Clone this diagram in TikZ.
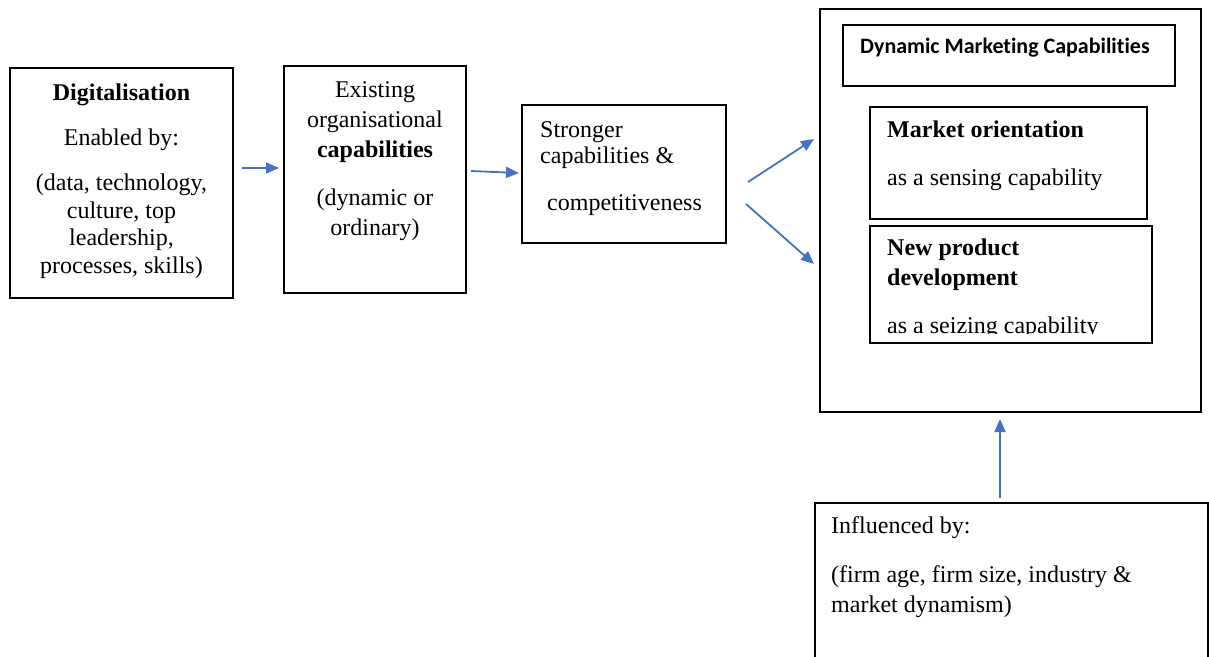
\documentclass[tikz,border=0pt]{standalone}
\usepackage{fontspec}
\setmainfont{Liberation Serif}
\newfontfamily\titlefont[RawFeature=-liga]{Carlito}
\usetikzlibrary{arrows.meta}

\tikzset{
  box/.style={draw=black, line width=1.4pt, rectangle, inner sep=0pt},
  outerbox/.style={draw=black, line width=2pt, rectangle, inner sep=0pt},
  txt/.style={inner sep=0pt, font=\fontsize{24}{28}\selectfont},
  flow/.style={draw={rgb,255:red,68;green,114;blue,196}, line width=1.8pt,
               -{Triangle[length=13pt,width=11pt]}},
}

\begin{document}
\begin{tikzpicture}[x=1pt,y=-1pt]
  \clip (0,0) rectangle (1209,656);
  \fill[white] (0,0) rectangle (1209,656);

  % boxes
  \node[box, minimum width=223pt, minimum height=230pt] (dig) at (121.5,183) {};
  \node[box, minimum width=182pt, minimum height=227pt] (exist) at (375,179.5) {};
  \node[box, minimum width=204pt, minimum height=138pt] (strong) at (624,174) {};
  \node[outerbox, minimum width=381pt, minimum height=403pt] (dmc) at (1010.5,210.5) {};
  \node[box, minimum width=332pt, minimum height=61pt] (dmctitle) at (1009,55.5) {};
  \node[box, minimum width=277pt, minimum height=112pt] (mo) at (1008.5,163) {};
  \node[box, minimum width=282pt, minimum height=117pt] (npd) at (1011,284.5) {};
  \node[box, minimum width=393pt, minimum height=180pt] (infl) at (1011.5,593) {};

  % Digitalisation
  \node[txt, anchor=base] (dig1) at (121.5,100) {\textbf{Digitalisation}};
  \node[txt, anchor=base] (dig2) at (121.5,145) {Enabled by:};
  \node[txt, anchor=base] (dig3) at (121.5,190) {(data, technology,};
  \node[txt, anchor=base] (dig4) at (121.5,218) {culture, top};
  \node[txt, anchor=base] (dig5) at (121.5,245) {leadership,};
  \node[txt, anchor=base] (dig6) at (121.5,273) {processes, skills)};

  % Existing organisational capabilities
  \node[txt, anchor=base] (ex1) at (375,97) {Existing};
  \node[txt, anchor=base] (ex2) at (375,127) {organisational};
  \node[txt, anchor=base] (ex3) at (375,157) {\textbf{capabilities}};
  \node[txt, anchor=base] (ex4) at (375,205) {(dynamic or};
  \node[txt, anchor=base] (ex5) at (375,235) {ordinary)};

  % Stronger capabilities
  \node[txt, anchor=base west] (st1) at (540,137) {Stronger};
  \node[txt, anchor=base west] (st2) at (540,163) {capabilities \&};
  \node[txt, anchor=base west] (st3) at (547,210) {competitiveness};

  % Dynamic marketing capabilities
  \node[inner sep=0pt, anchor=base west, font=\titlefont\bfseries\fontsize{22}{26}\selectfont]
    (dmct) at (860,53) {Dynamic Marketing Capabilities};
  \node[txt, anchor=base west] (mo1) at (887,137) {\textbf{Market orientation}};
  \node[txt, anchor=base west] (mo2) at (887,185) {as a sensing capability};
  \node[txt, anchor=base west] (npd1) at (887,255) {\textbf{New product}};
  \node[txt, anchor=base west] (npd2) at (887,285) {\textbf{development}};
  \begin{scope}
    \clip (870,300) rectangle (1152,333.5);
    \node[txt, anchor=base west] (npd3) at (887,333) {as a seizing capability};
  \end{scope}

  % Influences
  \node[txt, anchor=base west] (in1) at (831,533) {Influenced by:};
  \node[txt, anchor=base west] (in2) at (831,582) {(firm age, firm size, industry \&};
  \node[txt, anchor=base west] (in3) at (831,612) {market dynamism)};

  % connectors
  \coordinate (a1s) at (242,168);  \coordinate (a1e) at (279,168);
  \coordinate (a2s) at (471,171);  \coordinate (a2e) at (519,173);
  \coordinate (a3s) at (748,182);  \coordinate (a3e) at (814,139);
  \coordinate (a4s) at (746,204);  \coordinate (a4e) at (814,264);
  \coordinate (a5s) at (1000,498); \coordinate (a5e) at (1000,419);
  \draw[flow] (a1s) -- (a1e);
  \draw[flow] (a2s) -- (a2e);
  \draw[flow] (a3s) -- (a3e);
  \draw[flow] (a4s) -- (a4e);
  \draw[flow] (a5s) -- (a5e);
\end{tikzpicture}
\end{document}
